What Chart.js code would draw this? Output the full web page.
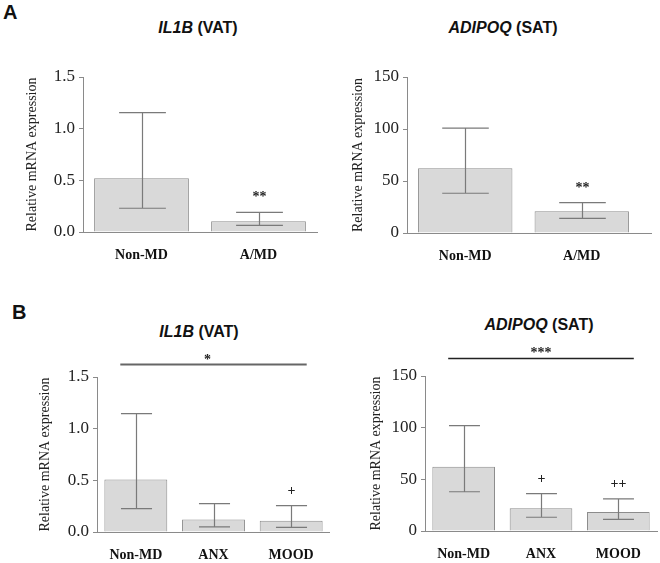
<!DOCTYPE html>
<html>
<head>
<meta charset="utf-8">
<script src="https://cdn.jsdelivr.net/npm/chart.js@4.4.0/dist/chart.umd.min.js"></script>
<style>
    body { margin: 0; background: #fff; }
    #wrap { position: relative; width: 660px; height: 563px; overflow: hidden; }
    canvas { position: absolute; }
    .letter { position: absolute; font: bold 20px "Liberation Sans", Arial, sans-serif; color: #111; }
    .title { position: absolute; font: bold 16px "Liberation Sans", Arial, sans-serif; color: #111;
             transform: translate(-50%, -50%); white-space: nowrap; }
    .title i { font-style: italic; }
</style>
</head>
<body>
<div id="wrap">
    <div class="letter" style="left:3px; top:1px;">A</div>
    <div class="letter" style="left:12px; top:301px;">B</div>
    <div class="title" style="left:198px; top:28px;"><i>IL1B</i> (VAT)</div>
    <div class="title" style="left:503px; top:28px;"><i>ADIPOQ</i> (SAT)</div>
    <div class="title" style="left:199px; top:332px;"><i>IL1B</i> (VAT)</div>
    <div class="title" style="left:539px; top:325px;"><i>ADIPOQ</i> (SAT)</div>
    <canvas id="a-il1b" width="330" height="270" style="left:0; top:0;"></canvas>
    <canvas id="a-adipoq" width="330" height="270" style="left:330px; top:0;"></canvas>
    <canvas id="b-il1b" width="330" height="293" style="left:0; top:270px;"></canvas>
    <canvas id="b-adipoq" width="330" height="293" style="left:330px; top:270px;"></canvas>
</div>
<script>
// groups
const groupsA = ['Non-MD', 'A/MD'];
const groupsB = ['Non-MD', 'ANX', 'MOOD'];

// y ticks
const ticksIL1B = [0, 0.5, 1.0, 1.5];
const ticksADIPOQ = [0, 50, 100, 150];

// panel A - IL1B (VAT)
const il1bA = [0.52, 0.105];
const il1bAHigh = [1.155, 0.19];
const il1bALow = [0.23, 0.065];
const il1bAMarks = ['', '**'];

// panel A - ADIPOQ (SAT)
const adipoqA = [62.2, 21];
const adipoqAHigh = [100.8, 29.2];
const adipoqALow = [38.2, 14.1];
const adipoqAMarks = ['', '**'];

// panel B - IL1B (VAT)
const il1bB = [0.507, 0.12, 0.11];
const il1bBHigh = [1.146, 0.275, 0.255];
const il1bBLow = [0.226, 0.05, 0.045];
const il1bBMarks = ['', '', '+'];

// panel B - ADIPOQ (SAT)
const adipoqB = [62.2, 22, 18.4];
const adipoqBHigh = [101.9, 36.1, 31];
const adipoqBLow = [38, 13.3, 11.3];
const adipoqBMarks = ['', '+', '++'];

const AXIS = '#8a8a8a';
const SERIF = '"Liberation Serif", "Times New Roman", serif';

// error bars, marks above bars, group comparison line
const errorBars = {
    id: 'errbars',
    afterDatasetsDraw(chart, args, opts) {
        const ctx = chart.ctx;
        const y = chart.scales.y;
        const x = chart.scales.x;
        const meta = chart.getDatasetMeta(0);
        const step = x.getPixelForValue(1) - x.getPixelForValue(0);
        const cap = step * 0.2;
        ctx.save();
        ctx.strokeStyle = '#7a7a7a';
        ctx.lineWidth = 1.2;
        meta.data.forEach((bar, i) => {
            const cx = Math.round(bar.x) + 0.5;
            const yh = y.getPixelForValue(opts.high[i]);
            const yl = y.getPixelForValue(opts.low[i]);
            ctx.beginPath();
            ctx.moveTo(cx, yh); ctx.lineTo(cx, yl);
            ctx.moveTo(cx - cap, yh); ctx.lineTo(cx + cap, yh);
            ctx.moveTo(cx - cap, yl); ctx.lineTo(cx + cap, yl);
            ctx.stroke();
            if (opts.marks[i]) {
                ctx.fillStyle = '#222';
                ctx.font = 'bold 14px ' + SERIF;
                ctx.textAlign = 'center';
                ctx.textBaseline = 'alphabetic';
                ctx.fillText(opts.marks[i], cx, yh - 11);
            }
        });
        if (opts.extend) {
            const by = Math.round(chart.chartArea.bottom) + 0.5;
            ctx.strokeStyle = AXIS;
            ctx.lineWidth = 1;
            ctx.beginPath();
            ctx.moveTo(chart.chartArea.right, by);
            ctx.lineTo(chart.chartArea.right + opts.extend, by);
            ctx.stroke();
        }
        if (opts.sig) {
            const s = opts.sig;
            const ly = y.getPixelForValue(s.level);
            const x0 = x.getPixelForValue(0) - step * 0.2;
            const x1 = x.getPixelForValue(x.max) + step * 0.2;
            ctx.strokeStyle = s.color;
            ctx.lineWidth = s.width;
            ctx.beginPath();
            ctx.moveTo(x0, ly); ctx.lineTo(x1, ly);
            ctx.stroke();
            ctx.fillStyle = '#222';
            ctx.font = 'bold 14px ' + SERIF;
            ctx.textAlign = 'center';
            ctx.textBaseline = 'alphabetic';
            ctx.fillText(s.text, (x0 + x1) / 2 + s.dx, ly - 1);
        }
        ctx.restore();
    }
};

function makeChart(id, labels, values, ticks, p) {
    const ctx = document.getElementById(id).getContext('2d');
    return new Chart(ctx, {
        type: 'bar',
        data: {
            labels: labels,
            datasets: [{
                data: values,
                backgroundColor: '#d9d9d9',
                borderColor: '#8c8c8c',
                borderWidth: 1,
                barPercentage: 0.81,
                categoryPercentage: 1
            }]
        },
        options: {
            responsive: false,
            animation: false,
            layout: { padding: { left: 0, top: p.top, right: p.right, bottom: 0 } },
            plugins: {
                legend: { display: false },
                tooltip: { enabled: false },
                errbars: p.err
            },
            scales: {
                x: {
                    grid: { display: false },
                    border: { color: AXIS, width: 1 },
                    ticks: { color: '#111', padding: 7, font: { family: SERIF, size: 14, weight: 'bold' } },
                    afterFit(scale) { scale.height = p.xh; }
                },
                y: {
                    min: ticks[0],
                    max: ticks[ticks.length - 1],
                    afterBuildTicks(scale) { scale.ticks = ticks.map(v => ({ value: v })); },
                    grid: { drawOnChartArea: false, drawTicks: true, tickLength: 4, color: AXIS },
                    border: { color: AXIS, width: 1 },
                    ticks: {
                        color: '#222',
                        padding: 4,
                        font: { family: SERIF, size: 17 },
                        callback: v => p.dec ? v.toFixed(1) : String(v)
                    },
                    title: {
                        display: true,
                        text: 'Relative mRNA expression',
                        color: '#222',
                        font: { family: SERIF, size: 14 },
                        padding: { top: p.tx - 8.4, bottom: 0 }
                    },
                    afterFit(scale) { scale.width = p.yw; }
                }
            }
        },
        plugins: [errorBars]
    });
}

makeChart('a-il1b', groupsA, il1bA, ticksIL1B, {
    top: 77, right: 13, xh: 38, yw: 83, tx: 32, dec: true,
    err: { high: il1bAHigh, low: il1bALow, marks: il1bAMarks }
});
makeChart('a-adipoq', groupsA, adipoqA, ticksADIPOQ, {
    top: 77, right: 20, xh: 37, yw: 77, tx: 28, dec: false,
    err: { high: adipoqAHigh, low: adipoqALow, marks: adipoqAMarks, extend: 12 }
});
makeChart('b-il1b', groupsB, il1bB, ticksIL1B, {
    top: 107, right: 0, xh: 31, yw: 97, tx: 45, dec: true,
    err: { high: il1bBHigh, low: il1bBLow, marks: il1bBMarks,
           sig: { level: 1.62, text: '*', color: '#666', width: 2, dx: -6 } }
});
makeChart('b-adipoq', groupsB, adipoqB, ticksADIPOQ, {
    top: 106, right: 3, xh: 32, yw: 95, tx: 46.7, dec: false,
    err: { high: adipoqBHigh, low: adipoqBLow, marks: adipoqBMarks,
           sig: { level: 167, text: '***', color: '#222', width: 1.5, dx: 0 } }
});
</script>
</body>
</html>
